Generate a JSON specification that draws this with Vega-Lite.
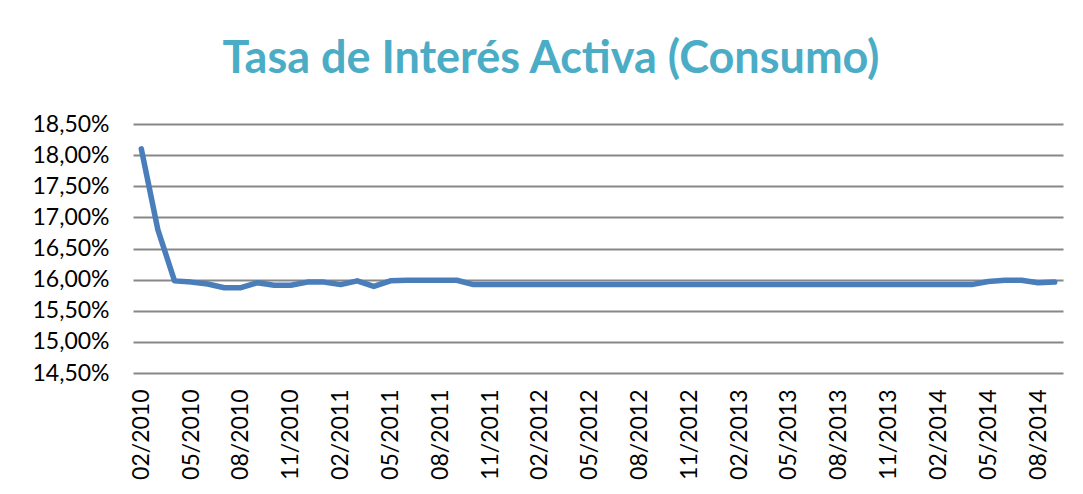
{
  "$schema": "https://vega.github.io/schema/vega-lite/v6.json",
  "width": 930,
  "height": 249,
  "autosize": {"type": "none"},
  "padding": {"left": 133, "top": 124, "right": 20, "bottom": 121},
  "background": "white",
  "title": {
    "text": "Tasa de Interés Activa (Consumo)",
    "font": "Lato",
    "fontSize": 45,
    "fontWeight": "bold",
    "color": "#4BACC6",
    "anchor": "middle",
    "dx": -47,
    "offset": 31
  },
  "data": {
    "values": [
      {"mes": "02/2010", "tasa": 18.10},
      {"mes": "03/2010", "tasa": 16.80},
      {"mes": "04/2010", "tasa": 15.98},
      {"mes": "05/2010", "tasa": 15.96},
      {"mes": "06/2010", "tasa": 15.93},
      {"mes": "07/2010", "tasa": 15.87},
      {"mes": "08/2010", "tasa": 15.87},
      {"mes": "09/2010", "tasa": 15.95},
      {"mes": "10/2010", "tasa": 15.91},
      {"mes": "11/2010", "tasa": 15.91},
      {"mes": "12/2010", "tasa": 15.96},
      {"mes": "01/2011", "tasa": 15.96},
      {"mes": "02/2011", "tasa": 15.92},
      {"mes": "03/2011", "tasa": 15.98},
      {"mes": "04/2011", "tasa": 15.89},
      {"mes": "05/2011", "tasa": 15.98},
      {"mes": "06/2011", "tasa": 15.99},
      {"mes": "07/2011", "tasa": 15.99},
      {"mes": "08/2011", "tasa": 15.99},
      {"mes": "09/2011", "tasa": 15.99},
      {"mes": "10/2011", "tasa": 15.92},
      {"mes": "11/2011", "tasa": 15.92},
      {"mes": "12/2011", "tasa": 15.92},
      {"mes": "01/2012", "tasa": 15.92},
      {"mes": "02/2012", "tasa": 15.92},
      {"mes": "03/2012", "tasa": 15.92},
      {"mes": "04/2012", "tasa": 15.92},
      {"mes": "05/2012", "tasa": 15.92},
      {"mes": "06/2012", "tasa": 15.92},
      {"mes": "07/2012", "tasa": 15.92},
      {"mes": "08/2012", "tasa": 15.92},
      {"mes": "09/2012", "tasa": 15.92},
      {"mes": "10/2012", "tasa": 15.92},
      {"mes": "11/2012", "tasa": 15.92},
      {"mes": "12/2012", "tasa": 15.92},
      {"mes": "01/2013", "tasa": 15.92},
      {"mes": "02/2013", "tasa": 15.92},
      {"mes": "03/2013", "tasa": 15.92},
      {"mes": "04/2013", "tasa": 15.92},
      {"mes": "05/2013", "tasa": 15.92},
      {"mes": "06/2013", "tasa": 15.92},
      {"mes": "07/2013", "tasa": 15.92},
      {"mes": "08/2013", "tasa": 15.92},
      {"mes": "09/2013", "tasa": 15.92},
      {"mes": "10/2013", "tasa": 15.92},
      {"mes": "11/2013", "tasa": 15.92},
      {"mes": "12/2013", "tasa": 15.92},
      {"mes": "01/2014", "tasa": 15.92},
      {"mes": "02/2014", "tasa": 15.92},
      {"mes": "03/2014", "tasa": 15.92},
      {"mes": "04/2014", "tasa": 15.92},
      {"mes": "05/2014", "tasa": 15.97},
      {"mes": "06/2014", "tasa": 15.99},
      {"mes": "07/2014", "tasa": 15.99},
      {"mes": "08/2014", "tasa": 15.95},
      {"mes": "09/2014", "tasa": 15.96}
    ]
  },
  "mark": {"type": "line", "color": "#4A7EBB", "strokeWidth": 5.5, "strokeJoin": "round", "strokeCap": "round"},
  "encoding": {
    "x": {
      "field": "mes",
      "type": "ordinal",
      "sort": null,
      "scale": {"type": "point", "padding": 0.5},
      "axis": {
        "title": null,
        "values": ["02/2010","05/2010","08/2010","11/2010","02/2011","05/2011","08/2011","11/2011","02/2012","05/2012","08/2012","11/2012","02/2013","05/2013","08/2013","11/2013","02/2014","05/2014","08/2014"],
        "labelAngle": -90,
        "labelAlign": "right",
        "labelBaseline": "middle",
        "labelFont": "Lato",
        "labelFontSize": 23,
        "labelColor": "#000000",
        "labelPadding": 16,
        "domain": false,
        "ticks": false,
        "grid": false
      }
    },
    "y": {
      "field": "tasa",
      "type": "quantitative",
      "scale": {"domain": [14.5, 18.5], "nice": false, "zero": false},
      "axis": {
        "title": null,
        "values": [14.5, 15, 15.5, 16, 16.5, 17, 17.5, 18, 18.5],
        "labelExpr": "replace(format(datum.value, '.2f'), '.', ',') + '%'",
        "labelFont": "Lato",
        "labelFontSize": 23,
        "labelColor": "#000000",
        "labelPadding": 24,
        "domain": false,
        "ticks": false,
        "grid": true,
        "gridColor": "#878787",
        "gridWidth": 2
      }
    }
  },
  "config": {"view": {"stroke": null}}
}
